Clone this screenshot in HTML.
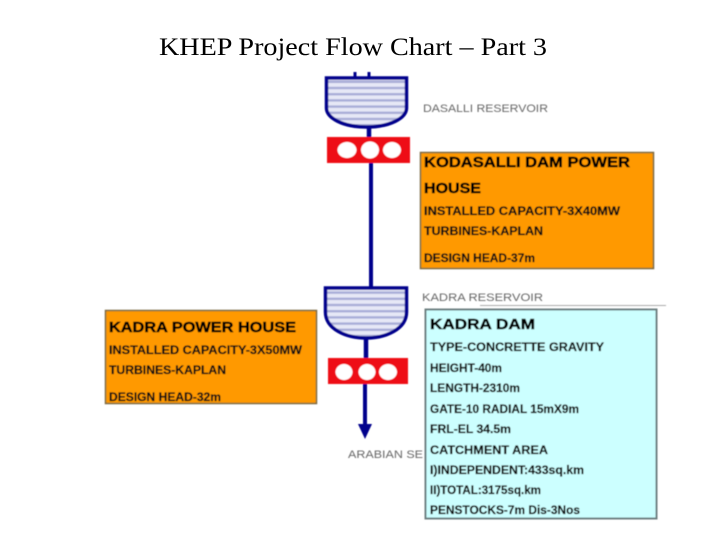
<!DOCTYPE html>
<html>
<head>
<meta charset="utf-8">
<style>
html,body{margin:0;padding:0;background:#fff;width:720px;height:540px;overflow:hidden}
svg{display:block}
.h{font-family:"Liberation Sans",sans-serif;font-weight:bold;fill:#000;stroke:#000;stroke-width:.5px;font-size:15px}
.b{font-family:"Liberation Sans",sans-serif;font-weight:bold;fill:#111;stroke:#111;stroke-width:.25px;font-size:11.5px}
.g{font-family:"Liberation Sans",sans-serif;fill:#666;font-size:11px}
.soft{filter:url(#bl)}
</style>
</head>
<body>
<svg width="720" height="540" viewBox="0 0 720 540" xmlns="http://www.w3.org/2000/svg">
<defs>
<filter id="bl" x="-5%" y="-5%" width="110%" height="110%"><feGaussianBlur stdDeviation="0.65"/></filter>
<pattern id="st" width="6" height="6.2" patternUnits="userSpaceOnUse">
<rect width="6" height="6.2" fill="#e6e8f6"/><rect width="6" height="2.4" fill="#a9add8"/>
</pattern>
</defs>
<text x="159" y="55" font-family="'Liberation Serif',serif" font-size="25.5" fill="#000" textLength="388" lengthAdjust="spacingAndGlyphs">KHEP Project Flow Chart – Part 3</text>
<g class="soft">
<!-- upper scheme -->
<path d="M355 72V77M369 72V77" stroke="#00008c" stroke-width="3" fill="none"/>
<path d="M326.500 78H406.500V108C406.500 118 390 127 366.500 127C343 127 326.500 118 326.500 108Z" fill="url(#st)" stroke="#00008c" stroke-width="3.500"/>
<path d="M369 127V138" stroke="#00008c" stroke-width="4.500"/>
<rect x="327" y="137" width="83" height="26" fill="#ee0b16"/>
<ellipse cx="347" cy="150" rx="9.500" ry="8" fill="#fff"/>
<ellipse cx="370" cy="150" rx="9" ry="8.500" fill="#fff"/>
<ellipse cx="392" cy="150" rx="9" ry="8" fill="#fff"/>
<path d="M371 163V288" stroke="#00008c" stroke-width="4"/>
<!-- lower scheme -->
<path d="M326 288H406.500V312C406.500 329 386 338 366 338C346 338 325.500 329 325.500 312V288Z" fill="url(#st)" stroke="#00008c" stroke-width="3.500"/>
<path d="M366 338V359" stroke="#00008c" stroke-width="4.500"/>
<rect x="328" y="358" width="80" height="26" fill="#ee0b16"/>
<ellipse cx="344" cy="372" rx="8.500" ry="8" fill="#fff"/>
<ellipse cx="367" cy="372" rx="8.500" ry="8" fill="#fff"/>
<ellipse cx="388" cy="372" rx="9" ry="8" fill="#fff"/>
<path d="M365 384V426" stroke="#00008c" stroke-width="4"/>
<path d="M358 424H372L365 439Z" fill="#00008c"/>
<path d="M480 305.500H666" stroke="#aaa" stroke-width="1"/>
<!-- boxes -->
<rect x="420.500" y="152.500" width="233" height="116" fill="#ff9900" stroke="#7a6a40" stroke-width="1.500"/>
<rect x="105.500" y="310.500" width="211" height="93" fill="#ff9900" stroke="#7a6a40" stroke-width="1.500"/>
<rect x="425.500" y="309.500" width="231" height="209" fill="#ccffff" stroke="#6d7f80" stroke-width="2"/>
<!-- grey labels -->
<text class="g" x="423" y="112" textLength="125" lengthAdjust="spacingAndGlyphs">DASALLI RESERVOIR</text>
<text class="g" x="422" y="301" textLength="121" lengthAdjust="spacingAndGlyphs">KADRA RESERVOIR</text>
<text class="g" x="348" y="458" textLength="75" lengthAdjust="spacingAndGlyphs">ARABIAN SE</text>
<!-- Kodasalli box -->
<text class="h" x="424" y="167" textLength="206" lengthAdjust="spacingAndGlyphs">KODASALLI DAM POWER</text>
<text class="h" x="424" y="193" textLength="57" lengthAdjust="spacingAndGlyphs">HOUSE</text>
<text class="b" x="424" y="215" textLength="196" lengthAdjust="spacingAndGlyphs">INSTALLED CAPACITY-3X40MW</text>
<text class="b" x="424" y="235" textLength="119" lengthAdjust="spacingAndGlyphs">TURBINES-KAPLAN</text>
<text class="b" x="424" y="262" textLength="111" lengthAdjust="spacingAndGlyphs">DESIGN HEAD-37m</text>
<!-- Kadra power house -->
<text class="h" x="109" y="332" textLength="187" lengthAdjust="spacingAndGlyphs">KADRA POWER HOUSE</text>
<text class="b" x="109" y="354" textLength="193" lengthAdjust="spacingAndGlyphs">INSTALLED CAPACITY-3X50MW</text>
<text class="b" x="109" y="374" textLength="117" lengthAdjust="spacingAndGlyphs">TURBINES-KAPLAN</text>
<text class="b" x="109" y="401" textLength="112" lengthAdjust="spacingAndGlyphs">DESIGN HEAD-32m</text>
<!-- Kadra dam -->
<text class="h" x="430" y="329" textLength="105" lengthAdjust="spacingAndGlyphs">KADRA DAM</text>
<text class="b" x="430" y="351" textLength="174" lengthAdjust="spacingAndGlyphs">TYPE-CONCRETTE GRAVITY</text>
<text class="b" x="430" y="372" textLength="72" lengthAdjust="spacingAndGlyphs">HEIGHT-40m</text>
<text class="b" x="430" y="392" textLength="90" lengthAdjust="spacingAndGlyphs">LENGTH-2310m</text>
<text class="b" x="430" y="413" textLength="149" lengthAdjust="spacingAndGlyphs">GATE-10 RADIAL 15mX9m</text>
<text class="b" x="430" y="433" textLength="81" lengthAdjust="spacingAndGlyphs">FRL-EL 34.5m</text>
<text class="b" x="430" y="454" textLength="118" lengthAdjust="spacingAndGlyphs">CATCHMENT AREA</text>
<text class="b" x="430" y="474" textLength="154" lengthAdjust="spacingAndGlyphs">I)INDEPENDENT:433sq.km</text>
<text class="b" x="430" y="494" textLength="111" lengthAdjust="spacingAndGlyphs">II)TOTAL:3175sq.km</text>
<text class="b" x="430" y="514" textLength="150" lengthAdjust="spacingAndGlyphs">PENSTOCKS-7m Dis-3Nos</text>
</g>
</svg>
</body>
</html>
